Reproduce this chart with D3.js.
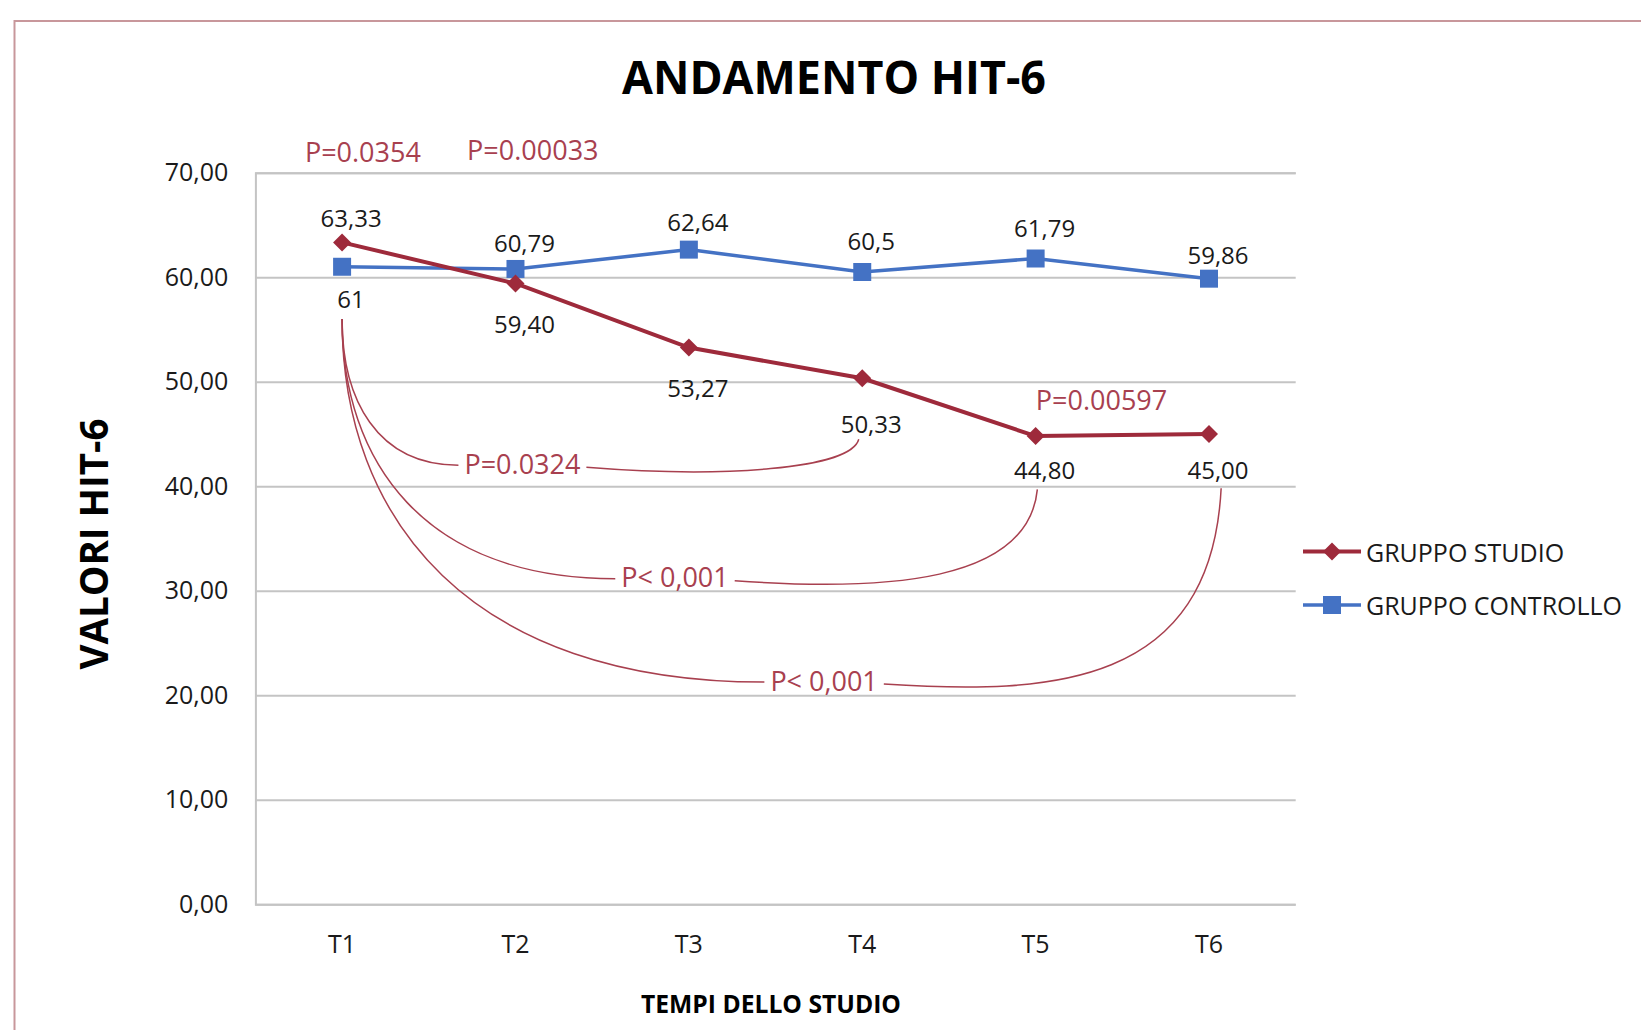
<!DOCTYPE html>
<html>
<head>
<meta charset="utf-8">
<script src="https://cdn.jsdelivr.net/npm/d3@7"></script>
<style>
  html, body { margin: 0; padding: 0; background: #fff; }
  svg { display: block; }
</style>
</head>
<body>
<svg id="chart" width="1641" height="1030"></svg>
<script>
// ---------- data ----------
const categories = ["T1", "T2", "T3", "T4", "T5", "T6"];
const seriesNames = ["GRUPPO STUDIO", "GRUPPO CONTROLLO"];
const studioValues = [63.33, 59.40, 53.27, 50.33, 44.80, 45.00];
const controlValues = [61, 60.79, 62.64, 60.5, 61.79, 59.86];
const studioLabels = ["63,33", "59,40", "53,27", "50,33", "44,80", "45,00"];
const controlLabels = ["61", "60,79", "62,64", "60,5", "61,79", "59,86"];
const yTicks = [0, 10, 20, 30, 40, 50, 60, 70];
const yTickLabels = ["0,00", "10,00", "20,00", "30,00", "40,00", "50,00", "60,00", "70,00"];
const titleText = "ANDAMENTO HIT-6";
const yTitleText = "VALORI HIT-6";
const xTitleText = "TEMPI DELLO STUDIO";
// p-value notes: anchored in data space (category index, value)
const pNoteTexts = ["P=0.0354", "P=0.00033", "P=0.00597"];
const pNoteCat = [0.12, 1.10, 4.38];
const pNoteVal = [72.0, 72.2, 48.3];
// bracket comparisons from T1 to a later time
const bracketTexts = ["P=0.0324", "P< 0,001", "P< 0,001"];
const bracketFromCat = [0, 0, 0];
const bracketFromVal = [56.0, 56.0, 56.0];
const bracketToCat = [2.98, 4.01, 5.07];
const bracketToVal = [44.5, 39.7, 39.8];
const bracketLabelCat = [1.04, 1.92, 2.78];
const bracketLabelVal = [42.2, 31.35, 21.45];

// ---------- layout / style ----------
const W = 1641, H = 1030;
const plot = { left: 255.4, right: 1295.7, top: 172.7, bottom: 904.3 };
// label vertical offsets in px (negative = above the point)
const studioLabelDy = [-25, 40, 40, 45, 33, 36];
const controlLabelDy = [32, -26, -28, -31, -31, -24];
const red = "#9E2A3B";
const noteRed = "#A8404F";
const blue = "#4472C4";
const grid = "#C4C4C4";
const textColor = "#1a1a1a";
const font = "'Open Sans', 'Noto Sans', sans-serif";

const svg = d3.select("#chart");

// chart border
svg.append("rect")
  .attr("x", 14.5).attr("y", 21).attr("width", W + 20).attr("height", H + 20)
  .attr("fill", "#fff").attr("stroke", "#C8979B").attr("stroke-width", 2);

const x = d3.scaleBand().domain(categories).range([plot.left, plot.right]).padding(0);
const xi = d3.scaleLinear().domain([-0.5, categories.length - 0.5]).range([plot.left, plot.right]);
const y = d3.scaleLinear().domain([0, 70]).range([plot.bottom, plot.top]);
const cx = c => x(c) + x.bandwidth() / 2;

// y axis + gridlines
const yAxis = d3.axisLeft(y)
  .tickValues(yTicks)
  .tickFormat((d, i) => yTickLabels[i])
  .tickSize(-(plot.right - plot.left))
  .tickPadding(27);
const gy = svg.append("g").attr("transform", `translate(${plot.left},0)`).call(yAxis);
gy.select(".domain").attr("stroke", grid).attr("stroke-width", 2);
gy.selectAll(".tick line").attr("stroke", grid).attr("stroke-width", 2);
gy.selectAll(".tick text")
  .attr("fill", textColor).attr("font-family", font).attr("font-size", 25);

// x axis
const xAxis = d3.axisBottom(x).tickSize(0).tickPadding(31);
const gx = svg.append("g").attr("transform", `translate(0,${plot.bottom})`).call(xAxis);
gx.select(".domain").remove();
gx.selectAll(".tick text")
  .attr("fill", textColor).attr("font-family", font).attr("font-size", 25);

// titles
svg.append("text")
  .attr("x", 834).attr("y", 94)
  .attr("text-anchor", "middle")
  .attr("font-family", font).attr("font-weight", "bold").attr("font-size", 47)
  .attr("textLength", 424).attr("lengthAdjust", "spacingAndGlyphs")
  .attr("fill", "#000").text(titleText);

svg.append("text")
  .attr("transform", `translate(108,544) rotate(-90)`)
  .attr("text-anchor", "middle")
  .attr("font-family", font).attr("font-weight", "bold").attr("font-size", 40)
  .attr("textLength", 251).attr("lengthAdjust", "spacingAndGlyphs")
  .attr("fill", "#000").text(yTitleText);

svg.append("text")
  .attr("x", 771).attr("y", 1013)
  .attr("text-anchor", "middle")
  .attr("font-family", font).attr("font-weight", "bold").attr("font-size", 25)
  .attr("textLength", 260).attr("lengthAdjust", "spacingAndGlyphs")
  .attr("fill", "#000").text(xTitleText);

// series
const line = d3.line().x((d, i) => cx(categories[i])).y(d => y(d));

svg.append("path").datum(controlValues)
  .attr("d", line).attr("fill", "none").attr("stroke", blue).attr("stroke-width", 3.5);
svg.append("path").datum(studioValues)
  .attr("d", line).attr("fill", "none").attr("stroke", red).attr("stroke-width", 4);

const sq = d3.symbol().type(d3.symbolSquare).size(18 * 18);
const diamondType = {
  draw(ctx, size) {
    const r = Math.sqrt(size / 2);
    ctx.moveTo(0, -r); ctx.lineTo(r, 0); ctx.lineTo(0, r); ctx.lineTo(-r, 0); ctx.closePath();
  }
};
const dm = d3.symbol().type(diamondType).size(2 * 9 * 9);

svg.append("g").selectAll("path").data(controlValues).join("path")
  .attr("d", sq)
  .attr("transform", (d, i) => `translate(${cx(categories[i])},${y(d)})`)
  .attr("fill", blue);
svg.append("g").selectAll("path").data(studioValues).join("path")
  .attr("d", dm)
  .attr("transform", (d, i) => `translate(${cx(categories[i])},${y(d)})`)
  .attr("fill", red);

// data labels
function drawLabels(values, labels, dys) {
  svg.append("g").selectAll("text").data(values).join("text")
    .attr("x", (d, i) => cx(categories[i]) + 9)
    .attr("y", (d, i) => y(d) + dys[i])
    .attr("dominant-baseline", "central")
    .attr("text-anchor", "middle")
    .attr("font-family", font).attr("font-size", 24)
    .attr("fill", textColor)
    .text((d, i) => labels[i]);
}
drawLabels(studioValues, studioLabels, studioLabelDy);
drawLabels(controlValues, controlLabels, controlLabelDy);

// p-value notes
svg.append("g").selectAll("text").data(pNoteTexts).join("text")
  .attr("x", (d, i) => xi(pNoteCat[i]))
  .attr("y", (d, i) => y(pNoteVal[i]))
  .attr("dominant-baseline", "central")
  .attr("text-anchor", "middle")
  .attr("font-family", font).attr("font-size", 27)
  .attr("fill", noteRed)
  .text(d => d);

// brackets
const bg = svg.append("g");
bracketTexts.forEach((t, i) => {
  const lx = xi(bracketLabelCat[i]);
  const ly = y(bracketLabelVal[i]);
  const txt = bg.append("text")
    .attr("x", lx).attr("y", ly)
    .attr("dominant-baseline", "central")
    .attr("text-anchor", "middle")
    .attr("font-family", font).attr("font-size", 27)
    .attr("fill", noteRed)
    .text(t);
  const bb = txt.node().getBBox();
  const x0 = xi(bracketFromCat[i]), y0 = y(bracketFromVal[i]);
  const xe = xi(bracketToCat[i]), ye = y(bracketToVal[i]);
  const xL = bb.x - 6, xR = bb.x + bb.width + 6;
  const yl = ly + 2;
  const left = `M${x0},${y0} C${x0},${y0 + 0.55 * (yl - y0)} ${x0 + 0.3 * (xL - x0)},${yl} ${xL},${yl}`;
  const dx = xe - xR;
  const right = `M${xR},${yl + 2} C${xR + 0.5 * dx},${yl + 13} ${xe - 0.03 * dx},${yl + 4} ${xe},${ye}`;
  bg.append("path").attr("d", left).attr("fill", "none").attr("stroke", noteRed).attr("stroke-width", 1.5);
  bg.append("path").attr("d", right).attr("fill", "none").attr("stroke", noteRed).attr("stroke-width", 1.5);
});

// legend
const legend = svg.append("g");
const legY = [551.6, 605];
const legColors = [red, blue];
const legSym = [dm, sq];
seriesNames.forEach((n, i) => {
  legend.append("line")
    .attr("x1", 1303).attr("x2", 1361).attr("y1", legY[i]).attr("y2", legY[i])
    .attr("stroke", legColors[i]).attr("stroke-width", i === 0 ? 4 : 3.5);
  legend.append("path").attr("d", legSym[i])
    .attr("transform", `translate(1332,${legY[i]})`).attr("fill", legColors[i]);
  legend.append("text")
    .attr("x", 1366).attr("y", legY[i])
    .attr("dominant-baseline", "central")
    .attr("font-family", font).attr("font-size", 25)
    .attr("fill", textColor).text(n);
});
</script>
</body>
</html>
